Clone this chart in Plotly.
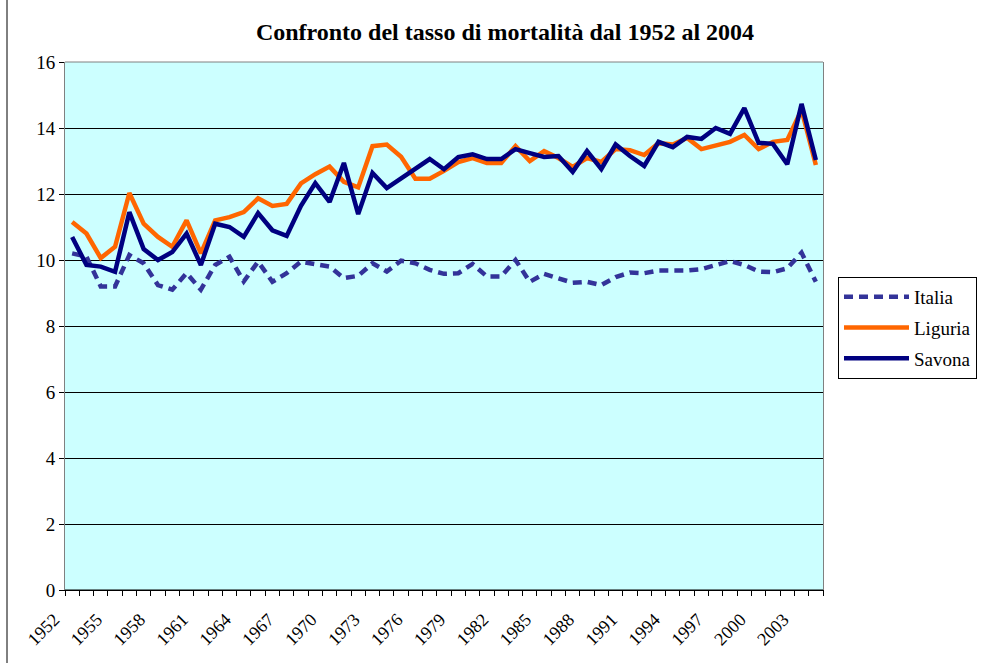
import plotly.graph_objects as go

years = list(range(1952, 2005))

italia = [10.2, 10.1, 9.2, 9.2, 10.15, 9.9, 9.24, 9.1, 9.6, 9.1,
          9.85, 10.1, 9.35, 9.95, 9.34, 9.6, 9.95, 9.88, 9.8, 9.45,
          9.52, 9.9, 9.65, 9.98, 9.9, 9.7, 9.58, 9.6, 9.88, 9.5,
          9.5, 10.0, 9.34, 9.58, 9.45, 9.31, 9.34, 9.24, 9.48, 9.62,
          9.6, 9.68, 9.68, 9.68, 9.72, 9.85, 9.97, 9.85, 9.65, 9.63,
          9.75, 10.22, 9.34]

liguria = [11.15, 10.8, 10.06, 10.4, 12.03, 11.1, 10.7, 10.4, 11.2, 10.2,
           11.2, 11.3, 11.45, 11.87, 11.64, 11.7, 12.32, 12.6, 12.83, 12.37,
           12.2, 13.45, 13.5, 13.13, 12.46, 12.46, 12.7, 12.97, 13.09, 12.94,
           12.94, 13.45, 13.0, 13.3, 13.09, 12.82, 13.09, 12.97, 13.36, 13.33,
           13.18, 13.54, 13.5, 13.7, 13.36, 13.48, 13.58, 13.79, 13.36, 13.58,
           13.64, 14.55, 12.88]

savona = [10.7, 9.85, 9.8, 9.64, 11.45, 10.33, 10.0, 10.24, 10.8, 9.85,
          11.1, 11.0, 10.7, 11.42, 10.9, 10.73, 11.64, 12.33, 11.76, 12.94,
          11.39, 12.64, 12.18, 12.48, 12.78, 13.06, 12.75, 13.12, 13.2, 13.06,
          13.06, 13.36, 13.24, 13.12, 13.15, 12.67, 13.3, 12.76, 13.5, 13.15,
          12.85, 13.58, 13.42, 13.73, 13.67, 14.0, 13.82, 14.6, 13.55, 13.52,
          12.9, 14.73, 13.03]

series_names = ["Italia", "Liguria", "Savona"]
title_text = "Confronto del tasso di mortalità dal 1952 al 2004"

FONT = "Liberation Serif, Times New Roman, serif"

fig = go.Figure()
fig.add_trace(go.Scatter(x=years, y=italia, mode="lines", name=series_names[0],
                         legendgroup="a",
                         line=dict(color="#333399", width=4.5, dash="9px,6px")))
fig.add_trace(go.Scatter(x=years, y=liguria, mode="lines", name=series_names[1],
                         legendgroup="b",
                         line=dict(color="#FF6600", width=4.5)))
fig.add_trace(go.Scatter(x=years, y=savona, mode="lines", name=series_names[2],
                         legendgroup="c",
                         line=dict(color="#000080", width=4.5)))

W, H = 985, 663
L, R, T, B = 65, 823, 62, 590
pw, ph = R - L, B - T

def px_x(x):
    return (x - L) / pw

def px_y(y):
    return (B - y) / ph

fig.update_layout(
    width=W, height=H,
    margin=dict(l=L, r=W - R, t=T, b=H - B, pad=0, autoexpand=False),
    paper_bgcolor="white",
    plot_bgcolor="#CCFFFF",
    font=dict(family=FONT, color="black", size=16),
    title=dict(text="<b>" + title_text + "</b>", x=505 / W, xanchor="center",
               y=1 - 32 / H, yanchor="middle", yref="container",
               font=dict(family=FONT, size=24, color="black")),
    showlegend=True,
    hovermode=False,
    legend=dict(x=px_x(838), y=px_y(277), xanchor="left", yanchor="top",
                bgcolor="white", bordercolor="black", borderwidth=1,
                font=dict(family=FONT, size=19, color="black"),
                traceorder="grouped", tracegroupgap=3,
                itemwidth=65),
    xaxis=dict(range=[1951.5, 2004.5], tickmode="linear", tick0=1952, dtick=3,
               tickangle=-45, ticks="", showgrid=False, zeroline=False,
               showline=True, linecolor="black", linewidth=1,
               ticklabelstandoff=11, ticklabelshift=-18,
               tickfont=dict(family=FONT, size=18, color="black"),
               minor=dict(ticks="outside", tickmode="linear", tick0=1951.5, dtick=1,
                          ticklen=5, tickcolor="black", tickwidth=1, showgrid=False)),
    yaxis=dict(range=[0, 16], tickmode="linear", tick0=0, dtick=2,
               ticks="outside", ticklen=5, tickcolor="black",
               showgrid=True, gridcolor="black", gridwidth=1, zeroline=False,
               showline=True, linecolor="#808080", linewidth=1, mirror=True,
               tickfont=dict(family=FONT, size=19, color="black")),
)

fig.add_shape(type="line", xref="paper", yref="paper", x0=0, x1=1, y0=1, y1=1,
              line=dict(color="#808080", width=1))
fig.add_shape(type="line", xref="paper", yref="paper", x0=0, x1=1, y0=0, y1=0,
              line=dict(color="black", width=1))
fig.add_shape(type="rect", xref="paper", yref="paper",
              x0=px_x(7), x1=px_x(995), y0=px_y(670), y1=px_y(-5),
              line=dict(color="black", width=1), fillcolor="rgba(0,0,0,0)")

fig.write_html("out.html", config={"displayModeBar": False},
               post_script="document.body.style.margin='0';document.body.style.overflow='hidden';")
